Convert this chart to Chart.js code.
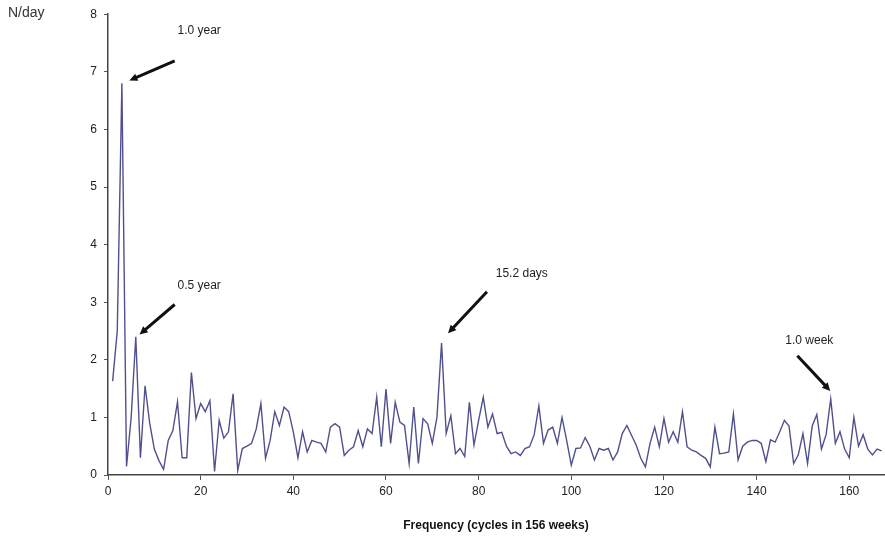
<!DOCTYPE html>
<html>
<head>
<meta charset="utf-8">
<title>Spectrum</title>
<script src="https://cdn.jsdelivr.net/npm/chart.js@4.4.1/dist/chart.umd.min.js"></script>
<style>
    html, body { margin: 0; padding: 0; background: #fff; }
    #wrap { position: relative; width: 885px; height: 545px; }
</style>
</head>
<body>
<div id="wrap"><canvas id="spectrumChart"></canvas></div>
<script>
// Power at each frequency (cycles in 156 weeks), starting at frequency 1
const firstFreq = 1;
const power = [
    1.63, 2.5, 6.8, 0.15, 1.0, 2.4, 0.3, 1.55, 0.9, 0.45,
    0.25, 0.1, 0.6, 0.77, 1.27, 0.3, 0.3, 1.78, 0.98, 1.24,
    1.1, 1.29, 0.06, 0.95, 0.64, 0.75, 1.41, 0.08, 0.46, 0.5,
    0.55, 0.8, 1.24, 0.29, 0.6, 1.1, 0.86, 1.18, 1.1, 0.75,
    0.3, 0.75, 0.4, 0.6, 0.57, 0.55, 0.4, 0.83, 0.89, 0.83,
    0.34, 0.43, 0.49, 0.77, 0.49, 0.8, 0.72, 1.35, 0.49, 1.49,
    0.55, 1.26, 0.92, 0.86, 0.2, 1.18, 0.2, 0.98, 0.89, 0.55,
    1.0, 2.29, 0.72, 1.03, 0.37, 0.46, 0.32, 1.26, 0.52, 0.95,
    1.35, 0.83, 1.06, 0.72, 0.74, 0.5, 0.37, 0.4, 0.34, 0.46,
    0.49, 0.7, 1.2, 0.55, 0.78, 0.83, 0.55, 1.0, 0.6, 0.17,
    0.46, 0.47, 0.65, 0.5, 0.26, 0.46, 0.43, 0.46, 0.26, 0.4,
    0.72, 0.86, 0.69, 0.52, 0.29, 0.14, 0.55, 0.83, 0.49, 0.98,
    0.57, 0.75, 0.57, 1.1, 0.49, 0.43, 0.4, 0.34, 0.29, 0.14,
    0.83, 0.37, 0.38, 0.4, 1.06, 0.26, 0.5, 0.57, 0.6, 0.6,
    0.55, 0.23, 0.61, 0.57, 0.75, 0.95, 0.85, 0.2, 0.35, 0.72,
    0.2, 0.85, 1.05, 0.45, 0.7, 1.32, 0.55, 0.75, 0.45, 0.3,
    1.0, 0.5, 0.7, 0.45, 0.35, 0.45, 0.42
];

const xTicks = [0, 20, 40, 60, 80, 100, 120, 140, 160];
const yTicks = [0, 1, 2, 3, 4, 5, 6, 7, 8];

// Peak labels: arrow tail/tip and text anchor, in data units
const peakNotes = [
    { text: '1.0 year',  tx: 15.0,  ty: 7.71, from: [14.4, 7.19],  to: [4.6, 6.85] },
    { text: '0.5 year',  tx: 15.0,  ty: 3.29, from: [14.4, 2.96],  to: [6.8, 2.44] },
    { text: '15.2 days', tx: 83.7,  ty: 3.49, from: [81.8, 3.18],  to: [73.4, 2.46] },
    { text: '1.0 week',  tx: 146.2, ty: 2.34, from: [148.8, 2.07], to: [155.9, 1.46] }
];

const points = power.map((v, i) => ({ x: firstFreq + i, y: v }));

const notesPlugin = {
    id: 'peakNotes',
    afterDatasetsDraw(chart) {
        const ctx = chart.ctx;
        const xs = chart.scales.x;
        const ys = chart.scales.y;
        ctx.save();
        peakNotes.forEach(n => {
            const x1 = xs.getPixelForValue(n.from[0]);
            const y1 = ys.getPixelForValue(n.from[1]);
            const x2 = xs.getPixelForValue(n.to[0]);
            const y2 = ys.getPixelForValue(n.to[1]);
            const ang = Math.atan2(y2 - y1, x2 - x1);
            const head = 9;
            // shaft
            ctx.strokeStyle = '#111';
            ctx.lineWidth = 3;
            ctx.beginPath();
            ctx.moveTo(x1, y1);
            ctx.lineTo(x2 - Math.cos(ang) * head * 0.8, y2 - Math.sin(ang) * head * 0.8);
            ctx.stroke();
            // head
            ctx.fillStyle = '#111';
            ctx.beginPath();
            ctx.moveTo(x2, y2);
            ctx.lineTo(x2 - head * Math.cos(ang - 0.45), y2 - head * Math.sin(ang - 0.45));
            ctx.lineTo(x2 - head * Math.cos(ang + 0.45), y2 - head * Math.sin(ang + 0.45));
            ctx.closePath();
            ctx.fill();
            // label
            ctx.font = '12px "Liberation Sans", Arial, sans-serif';
            ctx.fillStyle = '#222';
            ctx.textAlign = 'left';
            ctx.textBaseline = 'middle';
            ctx.fillText(n.text, xs.getPixelForValue(n.tx), ys.getPixelForValue(n.ty));
        });
        // unit label in the top left corner
        ctx.font = '14px "Liberation Sans", Arial, sans-serif';
        ctx.fillStyle = '#333';
        ctx.textAlign = 'left';
        ctx.textBaseline = 'middle';
        ctx.fillText('N/day', 8, 13);
        ctx.restore();
    }
};

const tickFont = { family: '"Liberation Sans", Arial, sans-serif', size: 12 };

new Chart(document.getElementById('spectrumChart'), {
    type: 'line',
    data: {
        datasets: [{
            data: points,
            borderColor: '#50508f',
            borderWidth: 1.4,
            pointRadius: 0,
            tension: 0,
            fill: false
        }]
    },
    options: {
        responsive: true,
        maintainAspectRatio: false,
        animation: false,
        layout: { padding: { top: 10, right: 1, left: 0, bottom: 0 } },
        plugins: {
            legend: { display: false },
            tooltip: { enabled: false }
        },
        scales: {
            x: {
                type: 'linear',
                min: 0,
                max: 167.5,
                afterBuildTicks: scale => { scale.ticks = xTicks.map(v => ({ value: v })); },
                ticks: { font: tickFont, color: '#222', padding: 4, maxRotation: 0 },
                grid: { drawOnChartArea: false, drawTicks: true, tickLength: 5, color: '#555' },
                border: { display: true, color: '#444', width: 1.5 },
                title: {
                    display: true,
                    text: 'Frequency (cycles in 156 weeks)',
                    font: { family: '"Liberation Sans", Arial, sans-serif', size: 12, weight: 'bold' },
                    color: '#111',
                    padding: { top: 14, bottom: 12 }
                },
                afterFit: scale => { scale.height = 70; }
            },
            y: {
                min: 0,
                max: 8,
                afterBuildTicks: scale => { scale.ticks = yTicks.map(v => ({ value: v })); },
                ticks: { font: tickFont, color: '#222', padding: 7 },
                grid: { drawOnChartArea: false, drawTicks: true, tickLength: 4, color: '#555' },
                border: { display: true, color: '#444', width: 1.5 },
                afterFit: scale => { scale.width = 108; }
            }
        }
    },
    plugins: [notesPlugin]
});
</script>
</body>
</html>
